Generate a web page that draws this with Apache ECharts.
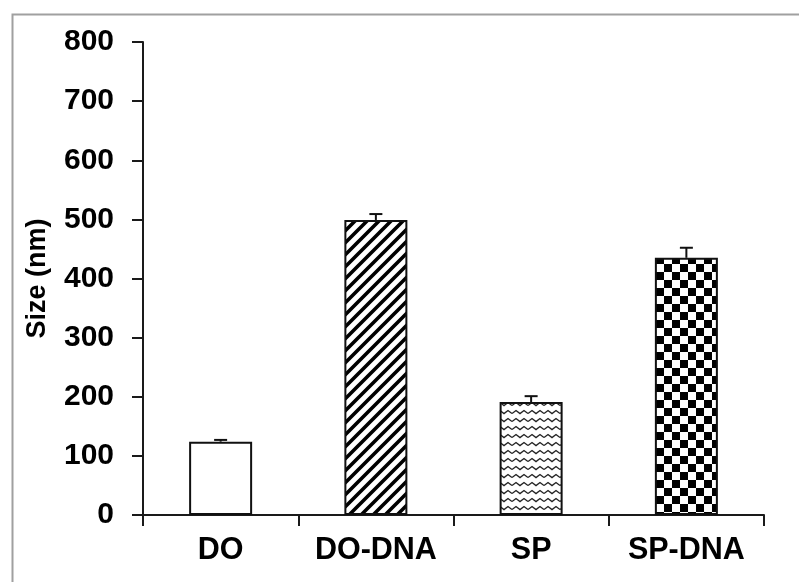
<!DOCTYPE html>
<html>
<head>
<meta charset="utf-8">
<script src="https://cdn.jsdelivr.net/npm/echarts@6/dist/echarts.min.js"></script>
<style>
html,body{margin:0;padding:0;background:#fff;}
#chart{width:799px;height:582px;}
</style>
</head>
<body>
<div id="chart"></div>
<script>
const categories = ['DO', 'DO-DNA', 'SP', 'SP-DNA'];
const sizeValues = [124, 499, 191, 435];
const sizeErrors = [3, 10, 10, 17];
const yTicks = [0, 100, 200, 300, 400, 500, 600, 700, 800];

function makeTile(w, h, draw) {
  const c = document.createElement('canvas');
  c.width = w; c.height = h;
  const ctx = c.getContext('2d');
  ctx.fillStyle = '#fff';
  ctx.fillRect(0, 0, w, h);
  draw(ctx);
  return c;
}
const hatchTile = makeTile(12, 12, ctx => {
  ctx.strokeStyle = '#000';
  ctx.lineWidth = 3.6;
  ctx.beginPath();
  ctx.moveTo(-3, 15); ctx.lineTo(15, -3);
  ctx.moveTo(-9, 9); ctx.lineTo(9, -9);
  ctx.moveTo(3, 21); ctx.lineTo(21, 3);
  ctx.stroke();
});
const waveTile = makeTile(16, 8, ctx => {
  ctx.strokeStyle = '#222';
  ctx.lineWidth = 1.4;
  ctx.beginPath();
  ctx.moveTo(0, 5.5); ctx.lineTo(4, 2.5); ctx.lineTo(8, 5.5); ctx.lineTo(12, 2.5); ctx.lineTo(16, 5.5);
  ctx.stroke();
});
const checkTile = makeTile(16, 16, ctx => {
  ctx.fillStyle = '#000';
  ctx.fillRect(0, 0, 8, 8);
  ctx.fillRect(8, 8, 8, 8);
});
const fills = ['#ffffff',
  { image: hatchTile, repeat: 'repeat' },
  { image: waveTile, repeat: 'repeat' },
  { image: checkTile, repeat: 'repeat' }];

const chart = echarts.init(document.getElementById('chart'), null, { renderer: 'canvas' });
const font = 'Liberation Sans, Arial, sans-serif';
chart.setOption({
  animation: false,
  backgroundColor: '#fff',
  graphic: [{
    type: 'rect', left: 10, top: 12,
    shape: { width: 820, height: 620 },
    style: { fill: 'none', stroke: '#a0a0a0', lineWidth: 2 },
    silent: true, z: -1
  }],
  grid: { left: 143, right: 35, top: 42, bottom: 67 },
  xAxis: {
    type: 'category',
    data: categories,
    boundaryGap: true,
    axisLine: { lineStyle: { color: '#1a1a1a', width: 2 } },
    axisTick: { show: true, length: 11, alignWithLabel: false, lineStyle: { color: '#1a1a1a', width: 2 } },
    axisLabel: { margin: 20, fontSize: 30.5, fontWeight: 'bold', color: '#000', fontFamily: font, interval: 0 },
    splitLine: { show: false }
  },
  yAxis: {
    type: 'value',
    min: yTicks[0],
    max: yTicks[yTicks.length - 1],
    interval: yTicks[1] - yTicks[0],
    name: 'Size (nm)',
    nameLocation: 'middle',
    nameRotate: 90,
    nameGap: 92,
    nameTextStyle: { fontSize: 27, fontWeight: 'bold', color: '#000', fontFamily: font },
    axisLine: { show: true, lineStyle: { color: '#1a1a1a', width: 2 } },
    axisTick: { show: true, length: 11, lineStyle: { color: '#1a1a1a', width: 2 } },
    axisLabel: { margin: 29, fontSize: 30, fontWeight: 'bold', color: '#000', fontFamily: font },
    splitLine: { show: false }
  },
  series: [{
    type: 'bar',
    barWidth: 63,
    data: sizeValues.map((v, i) => ({
      value: v,
      itemStyle: { color: fills[i], borderColor: '#111', borderWidth: 2 }
    })),
    z: 2
  }, {
    type: 'custom',
    z: 3,
    data: sizeValues.map((v, i) => [i, v, v + sizeErrors[i]]),
    renderItem: function (params, api) {
      const i = api.value(0);
      const p0 = api.coord([i, api.value(1)]);
      const p1 = api.coord([i, api.value(2)]);
      const cap = 6.5;
      const st = { stroke: '#111', lineWidth: 2 };
      return {
        type: 'group',
        children: [
          { type: 'line', shape: { x1: p0[0], y1: p0[1], x2: p1[0], y2: p1[1] }, style: st },
          { type: 'line', shape: { x1: p1[0] - cap, y1: p1[1], x2: p1[0] + cap, y2: p1[1] }, style: st }
        ]
      };
    }
  }]
});
</script>
</body>
</html>
